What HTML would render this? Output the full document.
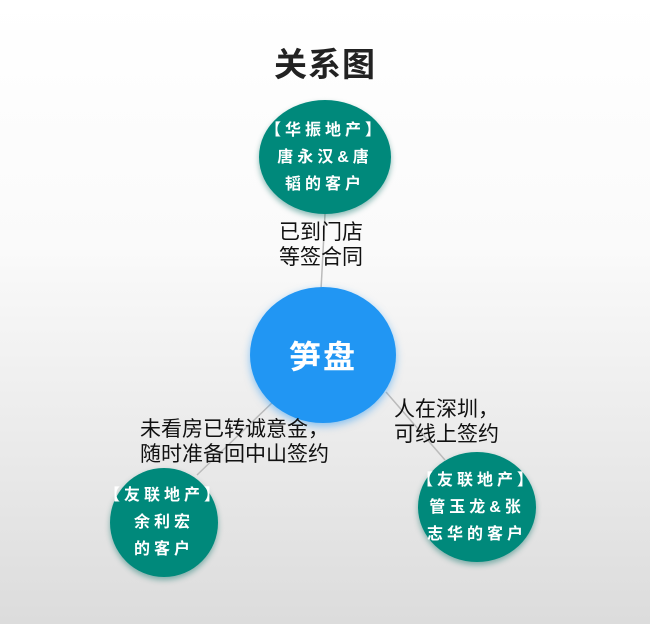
<!DOCTYPE html>
<html><head><meta charset="utf-8"><style>
html,body{margin:0;padding:0}
body{width:650px;height:624px;position:relative;overflow:hidden;background:linear-gradient(#fff 0%,#fafafa 40%,#dcdcdc 100%);font-family:"Liberation Sans","Noto Sans CJK SC",sans-serif}
.t{position:absolute;white-space:nowrap}
.c{position:absolute;border-radius:50%;display:flex;align-items:center;justify-content:center;text-align:center;color:#fff;font-weight:bold}
.g{background:#00897b;box-shadow:0 3px 6px rgba(0,110,100,.45);font-size:16px;letter-spacing:4px;line-height:27px}
.l{font-size:21px;line-height:25px;color:#111}
</style></head><body>
<div class="t" style="left:0;width:650px;text-align:center;top:38px;font-size:33px;font-weight:bold;color:#222;letter-spacing:1px">关系图</div>
<svg style="position:absolute;left:0;top:0" width="650" height="624">
<line x1="325" y1="214" x2="321" y2="290" stroke="#bbb" stroke-width="1.5"/>
<line x1="275" y1="400" x2="197" y2="475" stroke="#bbb" stroke-width="1.5"/>
<line x1="386" y1="392" x2="445" y2="460" stroke="#bbb" stroke-width="1.5"/>
</svg>
<div class="c g" style="left:259px;top:100px;width:132px;height:114px">【华振地产】<br>唐永汉&amp;唐<br>韬的客户</div>
<div class="c" style="left:250px;top:287px;width:146px;height:136px;background:#2196f3;box-shadow:0 3px 8px rgba(33,150,243,.5);font-size:32px;letter-spacing:2px">笋盘</div>
<div class="c g" style="left:110px;top:468px;width:108px;height:109px;white-space:nowrap">【友联地产】<br>余利宏<br>的客户</div>
<div class="c g" style="left:418px;top:452px;width:118px;height:110px;white-space:nowrap">【友联地产】<br>管玉龙&amp;张<br>志华的客户</div>
<div class="t l" style="left:279px;top:220px">已到门店<br>等签合同</div>
<div class="t l" style="left:140px;top:417px">未看房已转诚意金，<br>随时准备回中山签约</div>
<div class="t l" style="left:394px;top:397px">人在深圳，<br>可线上签约</div>
</body></html>
